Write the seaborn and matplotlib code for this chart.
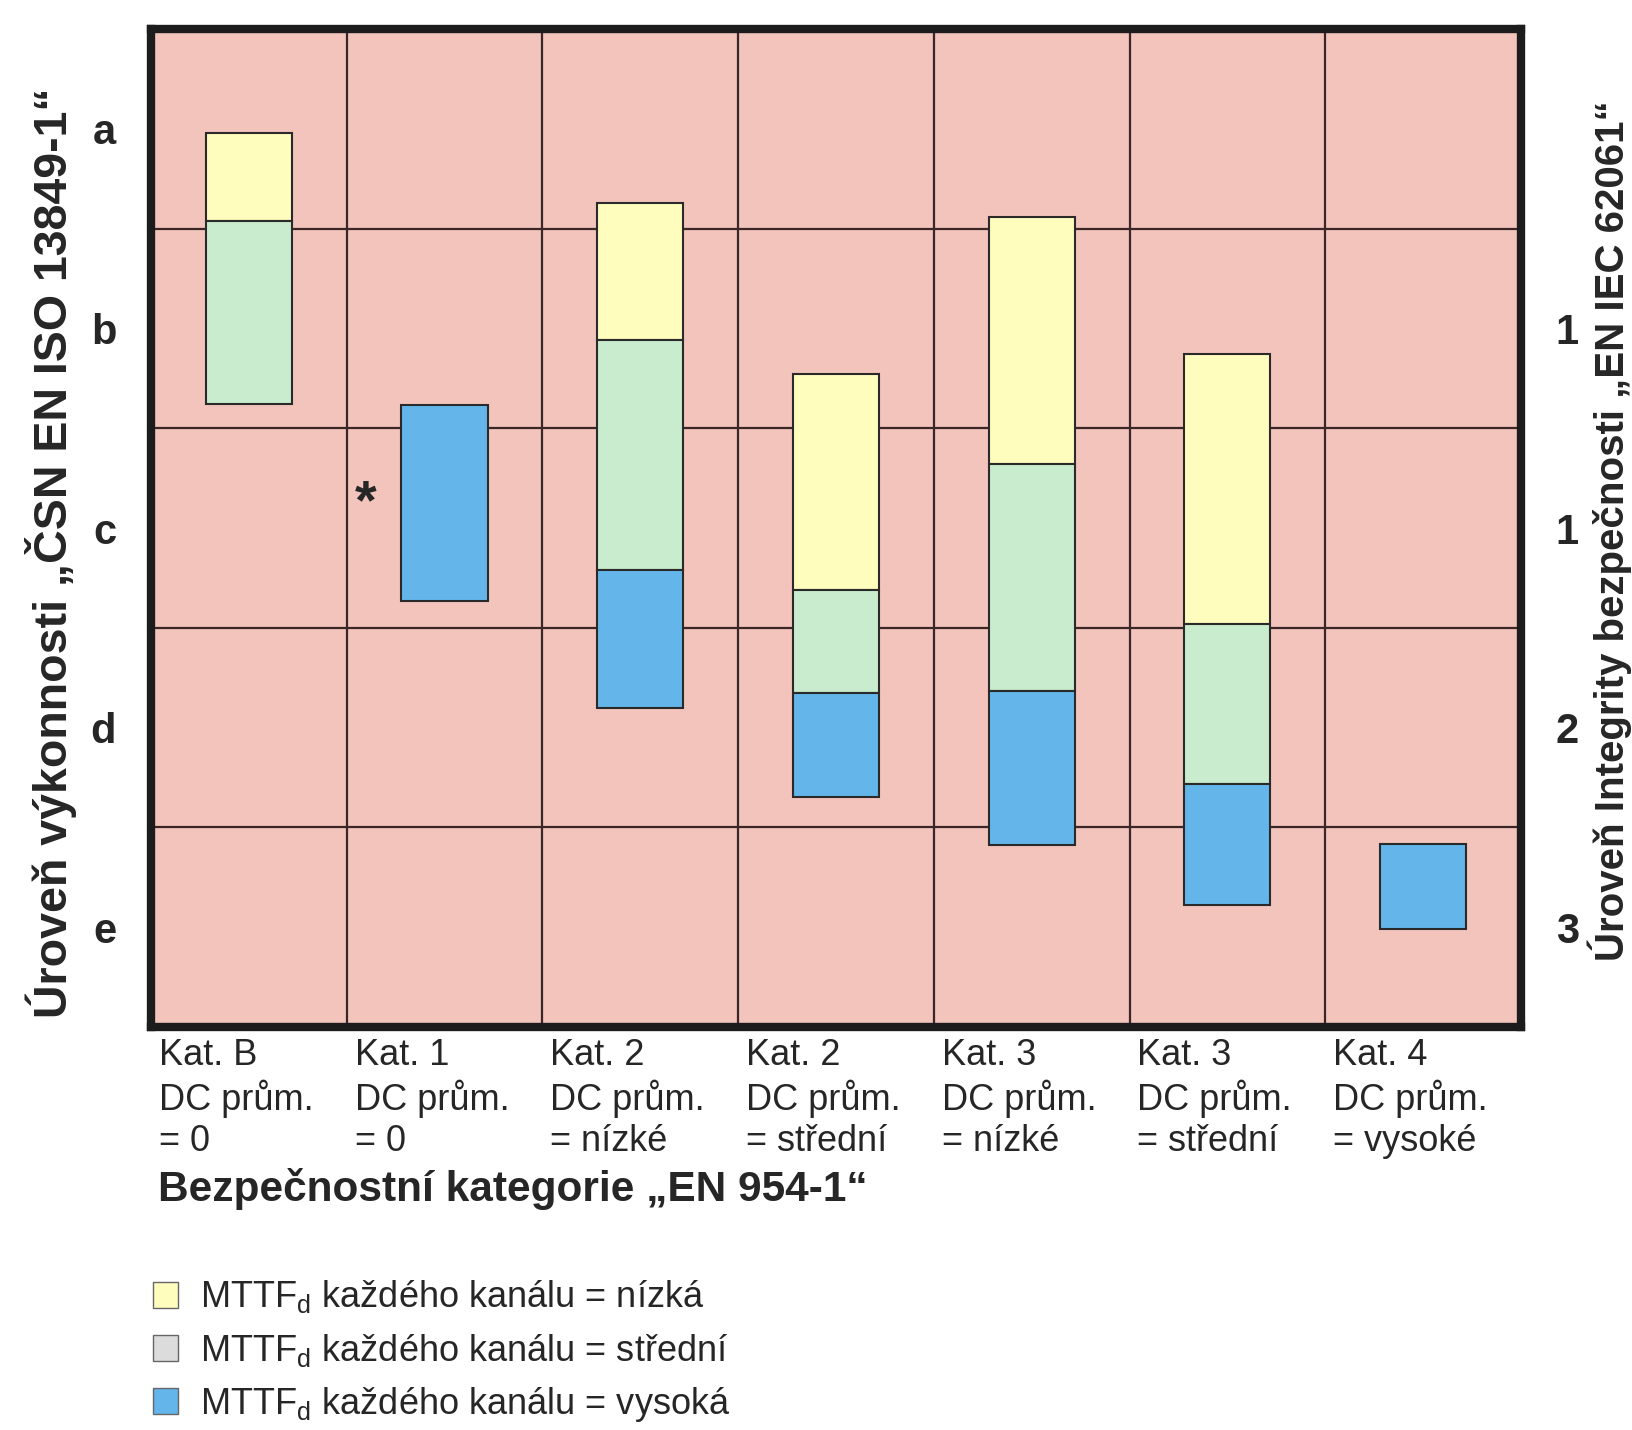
import numpy as np
import pandas as pd
import matplotlib
matplotlib.use("Agg")
import matplotlib.pyplot as plt
from matplotlib import font_manager
from matplotlib.patches import Patch
import seaborn as sns

# categories on x (EN 954-1)
categories = [
    "Kat. B\nDC prům.\n= 0",
    "Kat. 1\nDC prům.\n= 0",
    "Kat. 2\nDC prům.\n= nízké",
    "Kat. 2\nDC prům.\n= střední",
    "Kat. 3\nDC prům.\n= nízké",
    "Kat. 3\nDC prům.\n= střední",
    "Kat. 4\nDC prům.\n= vysoké",
]
pl_labels = ["e", "d", "c", "b", "a"]          # ČSN EN ISO 13849-1, bottom -> top
sil_labels = ["3", "2", "1", "1"]               # EN IEC 62061, rows e, d, c, b

# bar segments in PL units (0 = bottom of "e", 5 = top of "a"), nan = no segment
low_lo = [4.04, np.nan, 3.44, 2.19, 2.82, 2.02, np.nan]      # MTTFd nízká
low_hi = [4.48, np.nan, 4.13, 3.27, 4.06, 3.37, np.nan]
mid_lo = [3.12, np.nan, 2.29, 1.675, 1.686, 1.216, np.nan]   # MTTFd střední
mid_hi = [4.04, np.nan, 3.44, 2.19, 2.82, 2.02, np.nan]
high_lo = [np.nan, 2.135, 1.597, 1.153, 0.913, 0.61, 0.49]   # MTTFd vysoká
high_hi = [np.nan, 3.116, 2.29, 1.675, 1.686, 1.216, 0.919]

legend_labels = [
    "MTTF$_{\\mathrm{d}}$ každého kanálu = nízká",
    "MTTF$_{\\mathrm{d}}$ každého kanálu = střední",
    "MTTF$_{\\mathrm{d}}$ každého kanálu = vysoká",
]

pink = "#F2C4BC"
colors = {"nízká": "#FFFDBE", "střední": "#C8ECCD", "vysoká": "#63B5EA"}
legend_colors = ["#FFFDBE", "#DCDCDC", "#63B5EA"]

# long-form table
rows = []
for level, lo, hi in [("nízká", low_lo, low_hi), ("střední", mid_lo, mid_hi), ("vysoká", high_lo, high_hi)]:
    for cat, a, b in zip(categories, lo, hi):
        if not np.isnan(a):
            rows.append({"cat": cat, "level": level, "lo": a, "height": b - a})
df = pd.DataFrame(rows)

sns.set_style("white")
names = {f.name for f in font_manager.fontManager.ttflist}
narrow = "Liberation Sans Narrow" if "Liberation Sans Narrow" in names else "Liberation Sans"
plt.rcParams["font.family"] = ["Liberation Sans", "DejaVu Sans"]
plt.rcParams["mathtext.fontset"] = "custom"
plt.rcParams["mathtext.rm"] = "Liberation Sans"

fig = plt.figure(figsize=(16.32, 14.30), dpi=100)
ax = fig.add_axes([0.0925, 0.2818, 0.8395, 0.6979])
ax.set_facecolor(pink)

for level in ["nízká", "střední", "vysoká"]:
    sub = df[df["level"] == level].copy()
    sub["pos"] = sub["cat"].map(categories.index)
    sub = sub.sort_values("pos")
    sns.barplot(data=sub, x="cat", y="height", order=categories, bottom=sub["lo"].to_numpy(),
                color=colors[level], saturation=1, width=0.44, errorbar=None,
                edgecolor="#2a2a2a", linewidth=1.5, zorder=3, ax=ax)

ax.set_xlim(-0.5, len(categories) - 0.5)
ax.set_ylim(0, 5)

# x tick labels left aligned in each column
ax.set_xticks([i - 0.46 for i in range(len(categories))])
ax.set_xticklabels(categories, ha="left", va="top", fontsize=26, family=narrow, linespacing=1.22)
ax.set_xticks([i + 0.5 for i in range(len(categories) - 1)], minor=True)
ax.set_yticks([i + 0.5 for i in range(5)])
ax.set_yticklabels(pl_labels, fontsize=30, fontweight="bold")
ax.set_yticks([1, 2, 3, 4], minor=True)
ax.tick_params(axis="both", which="both", length=0)
ax.tick_params(axis="y", pad=25)
ax.tick_params(axis="x", pad=8)
ax.grid(False)
ax.grid(which="minor", color="#3a2626", linewidth=1.6, zorder=1)
ax.set_axisbelow(True)
for s in ax.spines.values():
    s.set_linewidth(6)
    s.set_color("#1c1c1c")
    s.set_visible(True)

ax2 = ax.twinx()
ax2.set_ylim(0, 5)
ax2.set_yticks([0.5, 1.5, 2.5, 3.5])
ax2.set_yticklabels(sil_labels, fontsize=30, fontweight="bold")
ax2.tick_params(axis="y", length=0, pad=25)
for s in ax2.spines.values():
    s.set_visible(False)

# asterisk next to Kat. 1
ax.text(0.595, 2.62, "*", fontsize=40, fontweight="bold", ha="center", va="center", zorder=4)

ax.set_xlabel("Bezpečnostní kategorie „EN 954-1“", fontsize=30.5, fontweight="bold", ha="left", va="top")
ax.xaxis.set_label_coords(0.005, -0.141)
ax.set_ylabel("Úroveň výkonnosti „ČSN EN ISO 13849-1“", fontsize=33.5, fontweight="bold",
              rotation=90, rotation_mode="default", ha="center", va="center")
ax.yaxis.set_label_coords(-0.073, 0.475)
ax2.set_ylabel("Úroveň Integrity bezpečnosti „EN IEC 62061“", fontsize=29, fontweight="bold",
               rotation=90, rotation_mode="default", ha="center", va="center")
ax2.yaxis.set_label_coords(1.0645, 0.497)

handles = [Patch(facecolor=c, edgecolor="#666666", linewidth=1) for c in legend_colors]
fig.legend(handles, legend_labels, loc="upper left", bbox_to_anchor=(0.094, 0.106), frameon=False,
           fontsize=26, handlelength=0.68, handleheight=0.72, handletextpad=0.62, labelspacing=0.45,
           borderpad=0, borderaxespad=0)

fig.savefig("out.png", dpi=100, facecolor="white")
